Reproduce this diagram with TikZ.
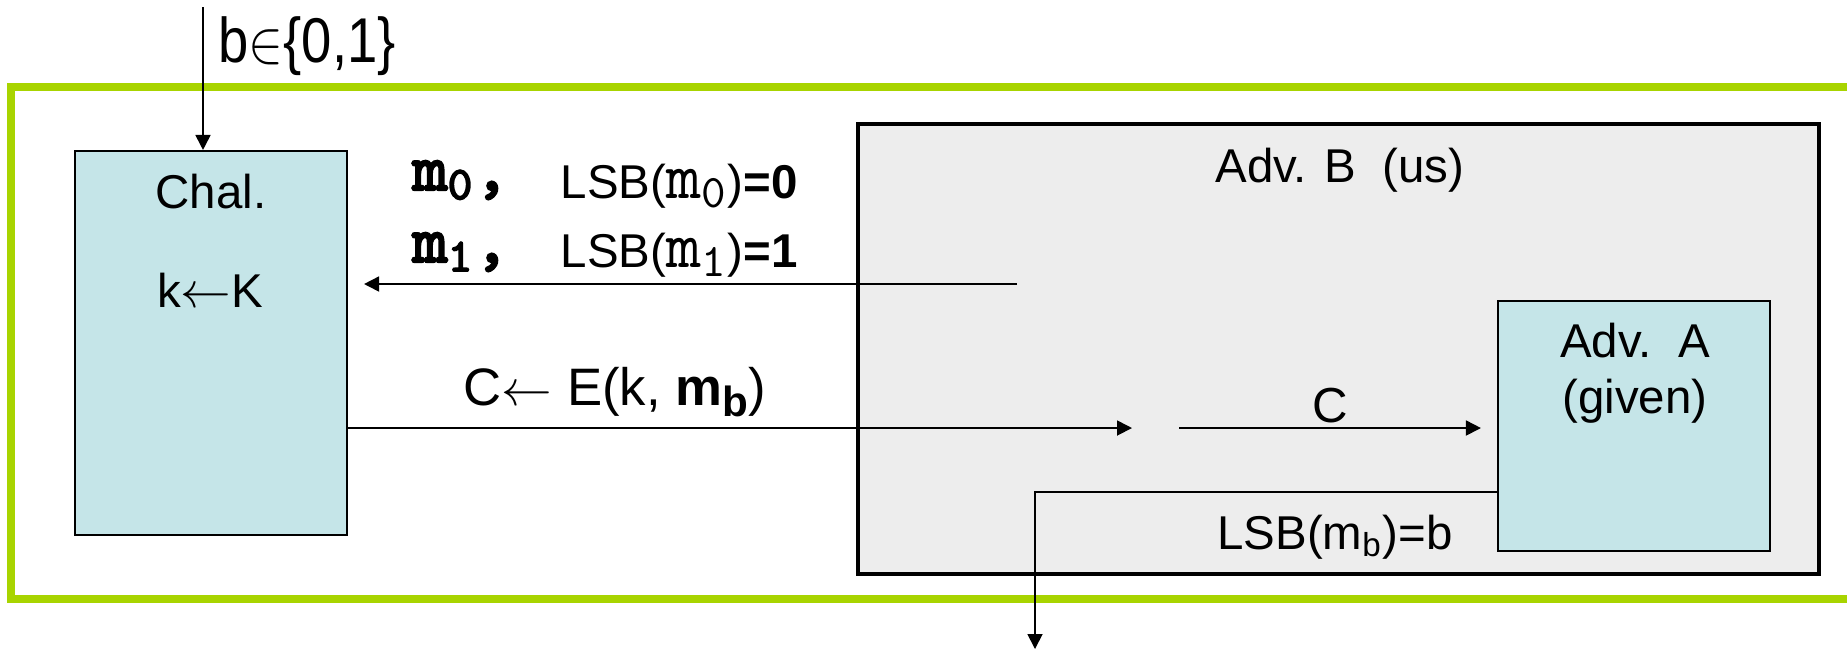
\documentclass[tikz,border=0pt]{standalone}
\usepackage{fontspec}
\setmainfont{Liberation Sans}
\setmonofont{lmmono10-regular.otf}[AutoFakeBold=3.5]
\usepackage{xcolor}
\definecolor{limeframe}{RGB}{168,212,0}
\definecolor{chalblue}{RGB}{197,229,232}
\definecolor{advgray}{RGB}{237,237,237}
\usetikzlibrary{arrows.meta, positioning, calc}
\tikzset{
  arr/.style = {-{Triangle[length=1.5mm, width=1.5mm]}, line width=0.5pt},
  party/.style args = {#1/#2}{draw, line width=0.6pt, fill=chalblue,
                              minimum width=#1, minimum height=#2, inner sep=0pt},
  txt/.style = {font=\fontsize{13.5}{16}\selectfont, inner sep=0pt, anchor=base},
}

\begin{document}
\begin{tikzpicture}
  \def\mm#1{{\fontsize{19}{20}\selectfont\ttfamily\bfseries m\textsubscript{#1},}}
  \def\mt#1{{\fontsize{19}{20}\selectfont\ttfamily m\textsubscript{#1}}}
  \useasboundingbox (0,0) rectangle (18.47,-6.51);
  \clip (0,0) rectangle (18.47,-6.51);
  % experiment frame
  \draw[limeframe, line width=2.3pt] (0.11,-0.87) rectangle (19,-5.99);
  \node[draw, line width=1.1pt, fill=advgray, minimum width=9.61cm,
        minimum height=4.5cm, inner sep=0pt] (advB) at (13.385,-3.49) {};
  \node[party=2.72cm/3.84cm] (chal) at (2.11,-3.43) {};
  \node[party=2.72cm/2.50cm] (advA) at (16.34,-4.26) {};

  \node[txt] (chalname) at (2.11,-2.08) {Chal.};
  \node[txt] (key) at (2.10,-3.07) {k$\leftarrow$K};
  \node[txt] (advBname) at (13.40,-1.82) {Adv. B~~(us)};
  \node[txt] (advAname) at (16.35,-3.57) {Adv.~~A};
  \node[txt] (given) at (16.35,-4.13) {(given)};

  % bit b
  \coordinate (bsrc) at (2.03,-0.07);
  \draw[arr] (bsrc) -- (bsrc |- chal.north);
  \node[txt, anchor=base west, font=\fontsize{18}{20}\selectfont] (bset) at (2.18,-0.62)
    {\scalebox{0.86}[1]{b$\in$\{0,1\}}};

  % messages
  \node[txt, anchor=base west] (mzero) at (4.12,-1.90) {\mm{0}};
  \node[txt, anchor=base west] (lsbzero) at (5.60,-1.98) {LSB(\mt{0})\textbf{=0}};
  \node[txt, anchor=base west] (mone) at (4.12,-2.62) {\mm{1}};
  \node[txt, anchor=base west] (lsbone) at (5.60,-2.67) {LSB(\mt{1})\textbf{=1}};
  \coordinate (bsend) at (10.17,-2.84);
  \draw[arr, shorten >=1.6mm] (bsend) -- (chal.east |- bsend);

  % challenge
  \coordinate (cstop) at (11.32,-4.28);
  \draw[arr] (chal.east |- cstop) -- (cstop);
  \node[txt, anchor=base west, font=\fontsize{15}{18}\selectfont] (enc) at (4.63,-4.05)
    {C$\leftarrow$ E(k, \textbf{m\raisebox{-0.22em}{\fontsize{12}{12}\selectfont b}})};
  \coordinate (cfwd) at (11.79,-4.28);
  \draw[arr, shorten >=1.6mm] (cfwd) -- (advA.west |- cfwd);
  \node[txt, font=\fontsize{14}{16}\selectfont] (ctxt) at (13.30,-4.22) {C};

  % output
  \coordinate (bend) at (10.35,-4.92);
  \coordinate (bout) at (10.35,-6.49);
  \draw[arr] (advA.west |- bend) -- (bend) -- (bout);
  \node[txt] (guess) at (13.35,-5.49) {LSB(m\textsubscript{b})=b};
\end{tikzpicture}
\end{document}
